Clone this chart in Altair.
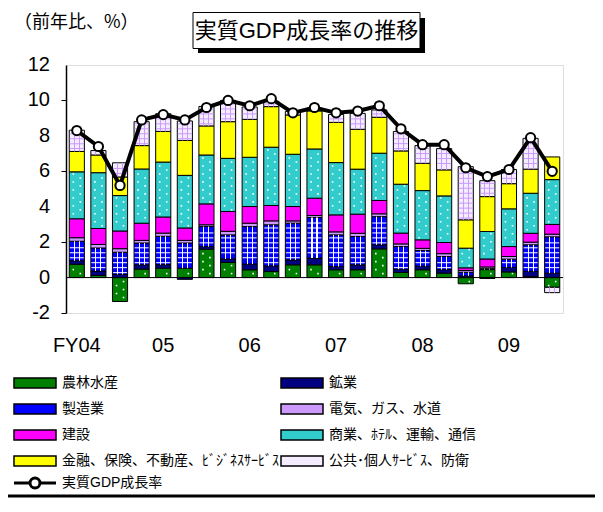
import json
import altair as alt
import pandas as pd

# ---------------- data ----------------
fy_labels = ["FY04", "05", "06", "07", "08", "09"]
y_ticks = [-2, 0, 2, 4, 6, 8, 10, 12]
n_quarters = 23

series = ["農林水産", "鉱業", "製造業", "電気、ガス、水道", "建設",
          "商業、ﾎﾃﾙ、運輸、通信", "金融、保険、不動産、ﾋﾞｼﾞﾈｽｻｰﾋﾞｽ", "公共･個人ｻｰﾋﾞｽ、防衛"]
colors = ["#008000", "#000080", "#0000FF", "#CC99FF", "#FF00FF",
          "#33CCCC", "#FFFF00", "#F4ECFF"]

ag     = [0.75, 0.12, -1.35, 0.48, 0.53, 0.53, 1.60, 0.85, 0.44, 0.34, 0.72, 0.72,
          0.44, 0.44, 1.62, 0.29, 0.44, 0.25, -0.35, 0.45, 0.32, 0.05, -0.55]
mining = [0.20, 0.25, 0.18, 0.24, 0.20, -0.10, 0.15, 0.20, 0.32, 0.32, 0.28, 0.38,
          0.18, 0.28, 0.23, 0.18, 0.20, 0.20, 0.10, -0.05, 0.25, 0.30, 0.25]
mfg    = [1.10, 1.30, 1.25, 1.23, 1.60, 1.42, 1.13, 1.36, 2.12, 2.32, 2.07, 2.29,
          1.79, 1.60, 1.59, 1.28, 0.89, 0.74, 0.20, 0.05, 0.47, 1.50, 2.05]
elec   = [0.20, 0.20, 0.20, 0.15, 0.18, 0.15, 0.10, 0.20, 0.19, 0.22, 0.13, 0.11,
          0.17, 0.18, 0.16, 0.15, 0.12, 0.16, 0.10, 0.10, 0.15, 0.15, 0.15]
constr = [1.07, 0.90, 1.00, 0.97, 0.91, 0.70, 1.18, 1.12, 0.94, 0.87, 0.81, 0.98,
          0.96, 1.08, 0.75, 0.61, 0.48, 0.63, 0.15, 0.45, 0.56, 0.50, 0.55]
comm   = [2.65, 3.15, 2.00, 3.06, 3.10, 2.97, 2.76, 3.00, 2.78, 3.29, 2.95, 2.78,
          2.95, 2.54, 2.67, 2.76, 2.78, 2.63, 1.11, 1.55, 2.13, 2.26, 2.53]
fin    = [1.15, 1.00, 1.05, 1.32, 1.73, 1.97, 1.64, 2.07, 2.14, 2.29, 2.22, 2.15,
          2.27, 2.25, 2.03, 1.88, 1.54, 1.47, 1.60, 1.97, 1.42, 1.36, 1.28]
pub    = [1.20, 0.25, 0.80, 1.35, 1.00, 1.10, 1.10, 1.20, 0.70, 0.30, 0.20, 0.15,
          0.45, 0.90, 0.41, 1.10, 1.00, 1.20, 3.00, 0.90, 0.80, 1.74, -0.30]
gdp    = [8.3, 7.4, 5.2, 8.9, 9.2, 8.9, 9.6, 10.0, 9.7, 10.1, 9.3, 9.6,
          9.3, 9.4, 9.7, 8.4, 7.5, 7.5, 6.2, 5.7, 6.1, 7.9, 6.0]
line_name = "実質GDP成長率"
chart_title = "実質GDP成長率の推移"
unit_label = "（前年比、%）"

values = [ag, mining, mfg, elec, constr, comm, fin, pub]

# ---------------- stacking ----------------
rows = []
for i in range(n_quarters):
    pos, neg = 0.0, 0.0
    for k, (s, vals) in enumerate(zip(series, values)):
        v = vals[i]
        if v >= 0:
            lo, hi = pos, pos + v
            pos = hi
        else:
            lo, hi = neg + v, neg
            neg = lo
        rows.append(dict(i=i, series=s, lo=lo, hi=hi, k=k))
seg = pd.DataFrame(rows)

# legend is laid out column by column: reorder so it reads row by row
legend_order = series[0::2] + series[1::2]
legend_colors = colors[0::2] + colors[1::2]

# pattern helpers derived from segments
def dots_for(names, step=0.225):
    left, right = [], []
    for r in seg[seg.series.isin(names)].itertuples():
        m = int(r.lo // step) + 1
        while m * step < r.hi - 0.08:
            y = m * step
            if y > r.lo + 0.08:
                (left if m % 2 == 0 else right).append(dict(i=r.i, y=y))
            m += 1
    return pd.DataFrame(left, columns=["i", "y"]), pd.DataFrame(right, columns=["i", "y"])

def hlines_for(name, step=0.28):
    out = []
    for r in seg[seg.series == name].itertuples():
        m = int(r.lo // step) + 1
        while m * step < r.hi - 0.09:
            y = m * step
            if y > r.lo + 0.09:
                out.append(dict(i=r.i, y=y))
            m += 1
    return pd.DataFrame(out, columns=["i", "y"])

dots_l, dots_r = dots_for([series[0], series[5]])
mfg_lines = hlines_for(series[2])
pub_lines = hlines_for(series[7])

line_df = pd.DataFrame(dict(i=list(range(n_quarters)), gdp=gdp, name=line_name))
tick_df = pd.DataFrame(dict(v=y_ticks, t=[str(v) for v in y_ticks]))
one = pd.DataFrame({"a": [0]})

FONT = "Liberation Sans, Noto Sans CJK JP"
JFONT = "Noto Sans CJK JP"

label_expr = "datum.value % 4 == 0 ? " + json.dumps(fy_labels) + "[datum.value / 4] : ''"

x_axis = alt.Axis(labelExpr=label_expr, labelAngle=0, ticks=False, domain=False,
                  labelPadding=22, labelFontSize=20, labelFont="Liberation Sans",
                  labelColor="black", labelOverlap=False)
y_axis = alt.Axis(values=y_ticks, grid=False, labels=False, tickSize=5,
                  tickColor="black", domainColor="black", domainWidth=1.5)
xscale = alt.Scale(paddingInner=0.3, paddingOuter=0.15)
yscale = alt.Scale(domain=[-2, 12], nice=False)

def X():
    return alt.X("i:O", title=None, scale=xscale, axis=x_axis)

def Y(field):
    return alt.Y(field, title=None, scale=yscale, axis=y_axis)

def stripes(col):
    T = "rgba(255,255,255,0)"
    stops = [(0, T), (0.30, T), (0.30, col), (0.37, col), (0.37, T),
             (0.63, T), (0.63, col), (0.70, col), (0.70, T), (1, T)]
    return {"gradient": "linear", "x1": 0, "y1": 0, "x2": 1, "y2": 0,
            "stops": [{"offset": o, "color": c} for o, c in stops]}

base = alt.Chart(seg).mark_bar(stroke="black", strokeWidth=1).encode(
    x=X(), y=Y("lo:Q"), y2="hi:Q",
    fill=alt.Fill("series:N", sort=legend_order,
                  scale=alt.Scale(domain=legend_order, range=legend_colors),
                  legend=alt.Legend(title=None, orient="none", legendX=-54, legendY=311,
                                    columns=2, columnPadding=-8, rowPadding=10,
                                    padding=0,
                                    symbolType="M-1,-1L7.4,-1L7.4,1L-1,1Z",
                                    symbolSize=100, symbolStrokeColor="black",
                                    symbolStrokeWidth=1.5, labelOffset=36,
                                    labelFont=FONT, labelFontSize=14,
                                    labelColor="black", labelLimit=400)))

mfg_v = alt.Chart(seg[seg.series == series[2]]).mark_bar(
    fill=stripes("white"), strokeWidth=0).encode(x=X(), y=Y("lo:Q"), y2="hi:Q")
pub_v = alt.Chart(seg[seg.series == series[7]]).mark_bar(
    fill=stripes("#CC99FF"), strokeWidth=0).encode(x=X(), y=Y("lo:Q"), y2="hi:Q")

mfg_h = alt.Chart(mfg_lines).mark_tick(size=14, thickness=1, color="white", opacity=1).encode(
    x=X(), y=Y("y:Q"))
pub_h = alt.Chart(pub_lines).mark_tick(size=14, thickness=1, color="#CC99FF", opacity=1).encode(
    x=X(), y=Y("y:Q"))

dl = alt.Chart(dots_l).mark_square(size=2.5, color="white", opacity=1, xOffset=-3.5).encode(
    x=X(), y=Y("y:Q"))
dr = alt.Chart(dots_r).mark_square(size=2.5, color="white", opacity=1, xOffset=3.5).encode(
    x=X(), y=Y("y:Q"))

zero = alt.Chart(one).mark_rule(color="black", strokeWidth=1).encode(y=alt.datum(0))

line = alt.Chart(line_df).mark_line(strokeWidth=4).encode(
    x=X(), y=Y("gdp:Q"),
    stroke=alt.Stroke("name:N", scale=alt.Scale(range=["black"]),
                      legend=alt.Legend(title=None, orient="none", legendX=-54, legendY=411,
                                        padding=0,
                                        symbolType="M-1,0L2.2,0M4.2,0L7.4,0M2.2,0A1,1 0 1,1 4.2,0A1,1 0 1,1 2.2,0Z",
                                        symbolSize=100, symbolStrokeColor="black",
                                        symbolFillColor="white", symbolStrokeWidth=3,
                                        labelOffset=36, labelFont=FONT, labelFontSize=14,
                                        labelColor="black")))
pts = alt.Chart(line_df).mark_point(shape="circle", filled=True, fill="white", stroke="black",
                                     strokeWidth=2, size=85, opacity=1).encode(
    x=X(), y=Y("gdp:Q"))

ylabels = alt.Chart(tick_df).mark_text(align="right", baseline="middle", fontSize=20,
                                       font="Liberation Sans", color="black").encode(
    x=alt.value(-16), y=Y("v:Q"), text="t:N")

unit_txt = alt.Chart(one).mark_text(text=unit_label, align="left", baseline="middle",
                                    fontSize=18, font=JFONT, color="black").encode(
    x=alt.value(-52), y=alt.value(-42))
shadow = alt.Chart(one).mark_rect(color="black").encode(
    x=alt.value(132), x2=alt.value(359), y=alt.value(-47), y2=alt.value(-12))
box = alt.Chart(one).mark_rect(fill="white", stroke="black", strokeWidth=1).encode(
    x=alt.value(127), x2=alt.value(354), y=alt.value(-52.5), y2=alt.value(-16.5))
title_txt = alt.Chart(one).mark_text(text=chart_title, align="center", baseline="middle",
                                     fontSize=22, font=FONT, color="black").encode(
    x=alt.value(240.5), y=alt.value(-34.5))
bottom = alt.Chart(one).mark_rule(color="black", strokeWidth=3).encode(
    x=alt.value(-58), x2=alt.value(529), y=alt.value(431))

chart = alt.layer(base, mfg_v, pub_v, mfg_h, pub_h, dl, dr, zero, line, pts, ylabels,
                  shadow, box, title_txt, unit_txt, bottom).properties(
    width=497, height=248,
    autosize=alt.AutoSizeParams(type="none"),
    padding={"left": 58, "top": 57, "right": 32, "bottom": 185},
).configure_view(stroke="#999999", strokeWidth=2).configure(background="white")

chart.save("out.html", embed_options={"renderer": "svg", "actions": False})
